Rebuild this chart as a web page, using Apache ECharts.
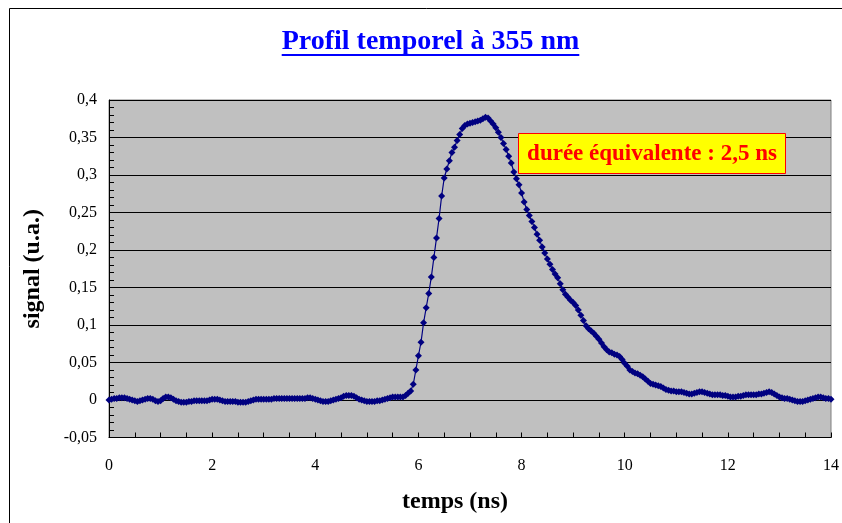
<!DOCTYPE html>
<html>
<head>
<meta charset="utf-8">
<title>Profil temporel à 355 nm</title>
<script src="https://cdn.jsdelivr.net/npm/echarts/dist/echarts.min.js"></script>
<style>
  html, body { margin: 0; padding: 0; background: #fff; }
  #chart { width: 842px; height: 523px; }
</style>
</head>
<body>
<div id="chart"></div>
<script>
// signal (u.a.) sampled every 0.05 ns, from 0 to 14 ns (one row per ns)
const dt = 0.05
const signal = [
  0.000, 0.001, 0.002, 0.002, 0.003, 0.003, 0.003, 0.002, 0.001, 0.000, -0.001, -0.002, -0.001, 0.000, 0.001, 0.002, 0.002, 0.001, -0.001, -0.002,
  -0.001, 0.002, 0.004, 0.004, 0.003, 0.001, -0.001, -0.002, -0.003, -0.003, -0.003, -0.002, -0.002, -0.001, -0.001, -0.001, -0.001, -0.001, -0.001, 0.000,
  0.001, 0.001, 0.001, 0.000, -0.001, -0.002, -0.002, -0.002, -0.002, -0.002, -0.003, -0.003, -0.003, -0.003, -0.002, -0.001, 0.000, 0.001, 0.001, 0.001,
  0.001, 0.001, 0.001, 0.001, 0.002, 0.002, 0.002, 0.002, 0.002, 0.002, 0.002, 0.002, 0.002, 0.002, 0.002, 0.002, 0.002, 0.003, 0.003, 0.002,
  0.001, 0.000, -0.001, -0.002, -0.002, -0.002, -0.001, 0.000, 0.001, 0.002, 0.003, 0.005, 0.006, 0.006, 0.006, 0.005, 0.003, 0.001, 0.000, -0.001,
  -0.002, -0.002, -0.002, -0.002, -0.001, -0.001, 0.000, 0.001, 0.002, 0.003, 0.004, 0.004, 0.004, 0.004, 0.004, 0.006, 0.009, 0.012, 0.021, 0.040,
  0.059, 0.077, 0.103, 0.123, 0.142, 0.164, 0.190, 0.216, 0.242, 0.272, 0.296, 0.308, 0.319, 0.330, 0.337, 0.346, 0.354, 0.362, 0.366, 0.368,
  0.369, 0.370, 0.371, 0.372, 0.373, 0.375, 0.377, 0.376, 0.372, 0.368, 0.363, 0.357, 0.350, 0.342, 0.334, 0.325, 0.316, 0.304, 0.295, 0.287,
  0.276, 0.264, 0.254, 0.246, 0.238, 0.230, 0.221, 0.213, 0.204, 0.196, 0.188, 0.181, 0.174, 0.168, 0.163, 0.155, 0.147, 0.141, 0.137, 0.133,
  0.130, 0.126, 0.120, 0.113, 0.106, 0.099, 0.095, 0.092, 0.089, 0.085, 0.081, 0.076, 0.071, 0.067, 0.064, 0.063, 0.061, 0.060, 0.058, 0.054,
  0.049, 0.045, 0.040, 0.038, 0.036, 0.035, 0.033, 0.031, 0.028, 0.025, 0.022, 0.021, 0.020, 0.019, 0.018, 0.016, 0.014, 0.013, 0.012, 0.012,
  0.011, 0.011, 0.011, 0.010, 0.009, 0.008, 0.008, 0.009, 0.010, 0.011, 0.011, 0.010, 0.009, 0.008, 0.007, 0.007, 0.007, 0.007, 0.006, 0.006,
  0.005, 0.004, 0.004, 0.004, 0.005, 0.005, 0.006, 0.007, 0.007, 0.007, 0.007, 0.007, 0.008, 0.008, 0.009, 0.010, 0.011, 0.010, 0.008, 0.006,
  0.004, 0.003, 0.002, 0.002, 0.001, 0.000, -0.001, -0.002, -0.002, -0.002, -0.001, 0.000, 0.001, 0.002, 0.003, 0.004, 0.004, 0.003, 0.002, 0.002,
  0.001
]
const xTicks = [0, 2, 4, 6, 8, 10, 12, 14]
const yTicks = [-0.05, 0, 0.05, 0.1, 0.15, 0.2, 0.25, 0.3, 0.35, 0.4]

const titleText = 'Profil temporel à 355 nm'
const noteText = 'durée équivalente : 2,5 ns'
const serif = '"Liberation Serif", "Times New Roman", serif'

let seriesData = signal.map((v, i) => [+(i * dt).toFixed(2), v])

// width of the title, for the underline
let ctx = document.createElement('canvas').getContext('2d')
ctx.font = 'bold 28px ' + serif
let titleW = ctx.measureText(titleText).width

let option = {
  animation: false,
  backgroundColor: '#ffffff',
  grid: {
    left: 109, right: 11, top: 100, bottom: 85.5,
    show: true,
    backgroundColor: '#c0c0c0',
    borderColor: '#808080',
    borderWidth: 1
  },
  xAxis: {
    type: 'value',
    min: xTicks[0],
    max: xTicks[xTicks.length - 1],
    interval: xTicks[1] - xTicks[0],
    name: 'temps (ns)',
    nameLocation: 'middle',
    nameGap: 52,
    nameTextStyle: { fontFamily: serif, fontWeight: 'bold', fontSize: 24, color: '#000', padding: [0, 30, 0, 0] },
    axisLine: { onZero: false, lineStyle: { color: '#000', width: 1 } },
    axisTick: { show: true, inside: true, length: 5, lineStyle: { color: '#000' } },
    minorTick: { show: true, splitNumber: 4, length: 5, lineStyle: { color: '#000' } },
    axisLabel: { fontFamily: serif, fontSize: 16, color: '#000', margin: 20 },
    splitLine: { show: false }
  },
  yAxis: {
    type: 'value',
    min: yTicks[0],
    max: yTicks[yTicks.length - 1],
    interval: 0.05,
    name: 'signal (u.a.)',
    nameLocation: 'middle',
    nameGap: 64,
    nameTextStyle: { fontFamily: serif, fontWeight: 'bold', fontSize: 24, color: '#000' },
    axisLine: { show: true, lineStyle: { color: '#000', width: 1 } },
    axisTick: { show: true, inside: true, length: 5, lineStyle: { color: '#000' } },
    minorTick: { show: true, splitNumber: 5, length: 5, lineStyle: { color: '#000' } },
    axisLabel: {
      fontFamily: serif, fontSize: 16, color: '#000', margin: 12,
      formatter: v => String(+v.toFixed(2)).replace('.', ',')
    },
    splitLine: { show: true, lineStyle: { color: '#000', width: 1 } }
  },
  graphic: [
    {
      type: 'rect',
      shape: { x: 9.5, y: 8.5, width: 900, height: 600 },
      style: { fill: null, stroke: '#000', lineWidth: 1 },
      silent: true
    },
    {
      type: 'text',
      x: 430.5, y: 42,
      style: {
        text: titleText, font: 'bold 28px ' + serif, fill: '#0000ff',
        align: 'center', verticalAlign: 'middle'
      }
    },
    {
      type: 'rect',
      shape: { x: 430.5 - titleW / 2, y: 54, width: titleW, height: 2 },
      style: { fill: '#0000ff' }
    },
    {
      type: 'rect',
      z: 100,
      shape: { x: 518.5, y: 133.5, width: 267, height: 40 },
      style: { fill: '#ffff00', stroke: '#ff0000', lineWidth: 1 }
    },
    {
      type: 'text',
      z: 101,
      x: 652, y: 154,
      style: {
        text: noteText, font: 'bold 23px ' + serif, fill: '#ff0000',
        align: 'center', verticalAlign: 'middle'
      }
    }
  ],
  series: [
    {
      type: 'line',
      data: seriesData,
      symbol: 'diamond',
      symbolSize: 7,
      showSymbol: true,
      showAllSymbol: true,
      sampling: null,
      lineStyle: { color: '#000080', width: 1.2 },
      itemStyle: { color: '#000080', borderWidth: 0 },
      emphasis: { disabled: true }
    }
  ]
}

let chart = echarts.init(document.getElementById('chart'), null, { renderer: 'canvas' })
chart.setOption(option)
window.addEventListener('resize', () => chart.resize())
</script>
</body>
</html>
